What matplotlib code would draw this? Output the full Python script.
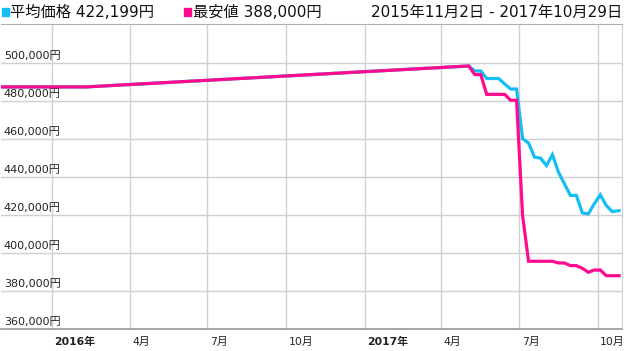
from datetime import datetime
import matplotlib.pyplot as plt
import matplotlib.dates as mdates
import matplotlib.transforms as mtransforms

plt.rcParams['font.family'] = ['DejaVu Sans', 'Noto Sans CJK JP']

# --- data ---
dates = ['2015-11-02', '2016-02-10', '2017-05-03', '2017-05-10', '2017-05-17',
         '2017-05-24', '2017-05-31', '2017-06-07', '2017-06-14', '2017-06-21',
         '2017-06-28', '2017-07-05', '2017-07-12', '2017-07-19', '2017-07-26',
         '2017-08-02', '2017-08-09', '2017-08-16', '2017-08-23', '2017-08-30',
         '2017-09-06', '2017-09-13', '2017-09-20', '2017-09-27', '2017-10-04',
         '2017-10-11', '2017-10-18', '2017-10-26']
avg_price = [487200, 487200, 498200, 495600, 495600,
             491600, 491600, 491600, 488800, 486100,
             486100, 460000, 457700, 450300, 449800,
             445900, 451600, 442400, 436300, 430200,
             430200, 421000, 420500, 425800, 430500,
             424900, 421700, 422199]
min_price = [487200, 487200, 498200, 493700, 493700,
             483300, 483300, 483300, 483300, 480200,
             480200, 419700, 395600, 395600, 395600,
             395600, 395600, 394700, 394700, 393300,
             393300, 391900, 389800, 391000, 391000,
             388000, 388000, 388000]

y_ticks = [360000, 380000, 400000, 420000, 440000, 460000, 480000, 500000]
x_ticks = ['2016-01-01', '2016-04-01', '2016-07-01', '2016-10-01',
           '2017-01-01', '2017-04-01', '2017-07-01', '2017-10-01']
x_labels = ['2016年', '4月', '7月', '10月', '2017年', '4月', '7月', '10月']

header_avg = '平均価格 422,199円'
header_min = '最安値 388,000円'
header_range = '2015年11月2日 - 2017年10月29日'

BLUE = '#14bdf2'
PINK = '#ff0a8e'


def to_dt(s):
    return datetime.strptime(s, '%Y-%m-%d')


fig = plt.figure(figsize=(6.24, 3.51), dpi=100)
ax = fig.add_axes([0.0012, 0.0627, 0.9950, 0.8675])

x = [to_dt(d) for d in dates]
ax.plot(x, avg_price, color=BLUE, linewidth=2.3, solid_joinstyle='miter', zorder=3)
ax.plot(x, min_price, color=PINK, linewidth=2.3, solid_joinstyle='miter', zorder=4)

ax.set_xlim(to_dt('2015-11-02'), to_dt('2017-10-29'))
ax.set_ylim(360000, 520000)

ax.set_yticks(y_ticks)
ax.set_yticklabels([])
ax.set_xticks([to_dt(d) for d in x_ticks])
ax.set_xticklabels([])
ax.tick_params(length=0)
ax.grid(True, color='#d0d0d0', linewidth=1.0)
ax.set_axisbelow(True)

ax.spines['left'].set_visible(False)
ax.spines['right'].set_color('#d0d0d0')
ax.spines['top'].set_color('#b0b0b0')
ax.spines['bottom'].set_color('#999999')
ax.spines['bottom'].set_linewidth(1.2)

# y labels sit inside the plot, just above each gridline
ytrans = mtransforms.blended_transform_factory(ax.transAxes, ax.transData)
yoff = mtransforms.offset_copy(ytrans, fig=fig, x=3, y=1.5, units='dots')
for v in y_ticks:
    ax.text(0, v, f'{v:,}円', transform=yoff, ha='left', va='bottom',
            fontsize=8, color='#222222')

# x labels just right of each gridline, below the axis
xtrans = mtransforms.blended_transform_factory(ax.transData, ax.transAxes)
xoff = mtransforms.offset_copy(xtrans, fig=fig, x=2.5, y=-13, units='dots')
for d, lab in zip(x_ticks, x_labels):
    bold = lab.endswith('年')
    ax.text(mdates.date2num(to_dt(d)), 0, lab, transform=xoff, ha='left', va='center',
            fontsize=7.8, fontweight='bold' if bold else 'normal', color='#222222')

# header
fig.patches.append(plt.Rectangle((2 / 624, 1 - 16 / 351), 7 / 624, 8 / 351,
                                 transform=fig.transFigure, color=BLUE))
fig.text(10 / 624, 1 - 12 / 351, header_avg, ha='left', va='center', fontsize=11, color='#111111')
fig.patches.append(plt.Rectangle((184 / 624, 1 - 16 / 351), 7 / 624, 8 / 351,
                                 transform=fig.transFigure, color=PINK))
fig.text(193 / 624, 1 - 12 / 351, header_min, ha='left', va='center', fontsize=11, color='#111111')
fig.text(622 / 624, 1 - 12 / 351, header_range, ha='right', va='center', fontsize=11, color='#111111')

fig.savefig('out.png', dpi=100)
